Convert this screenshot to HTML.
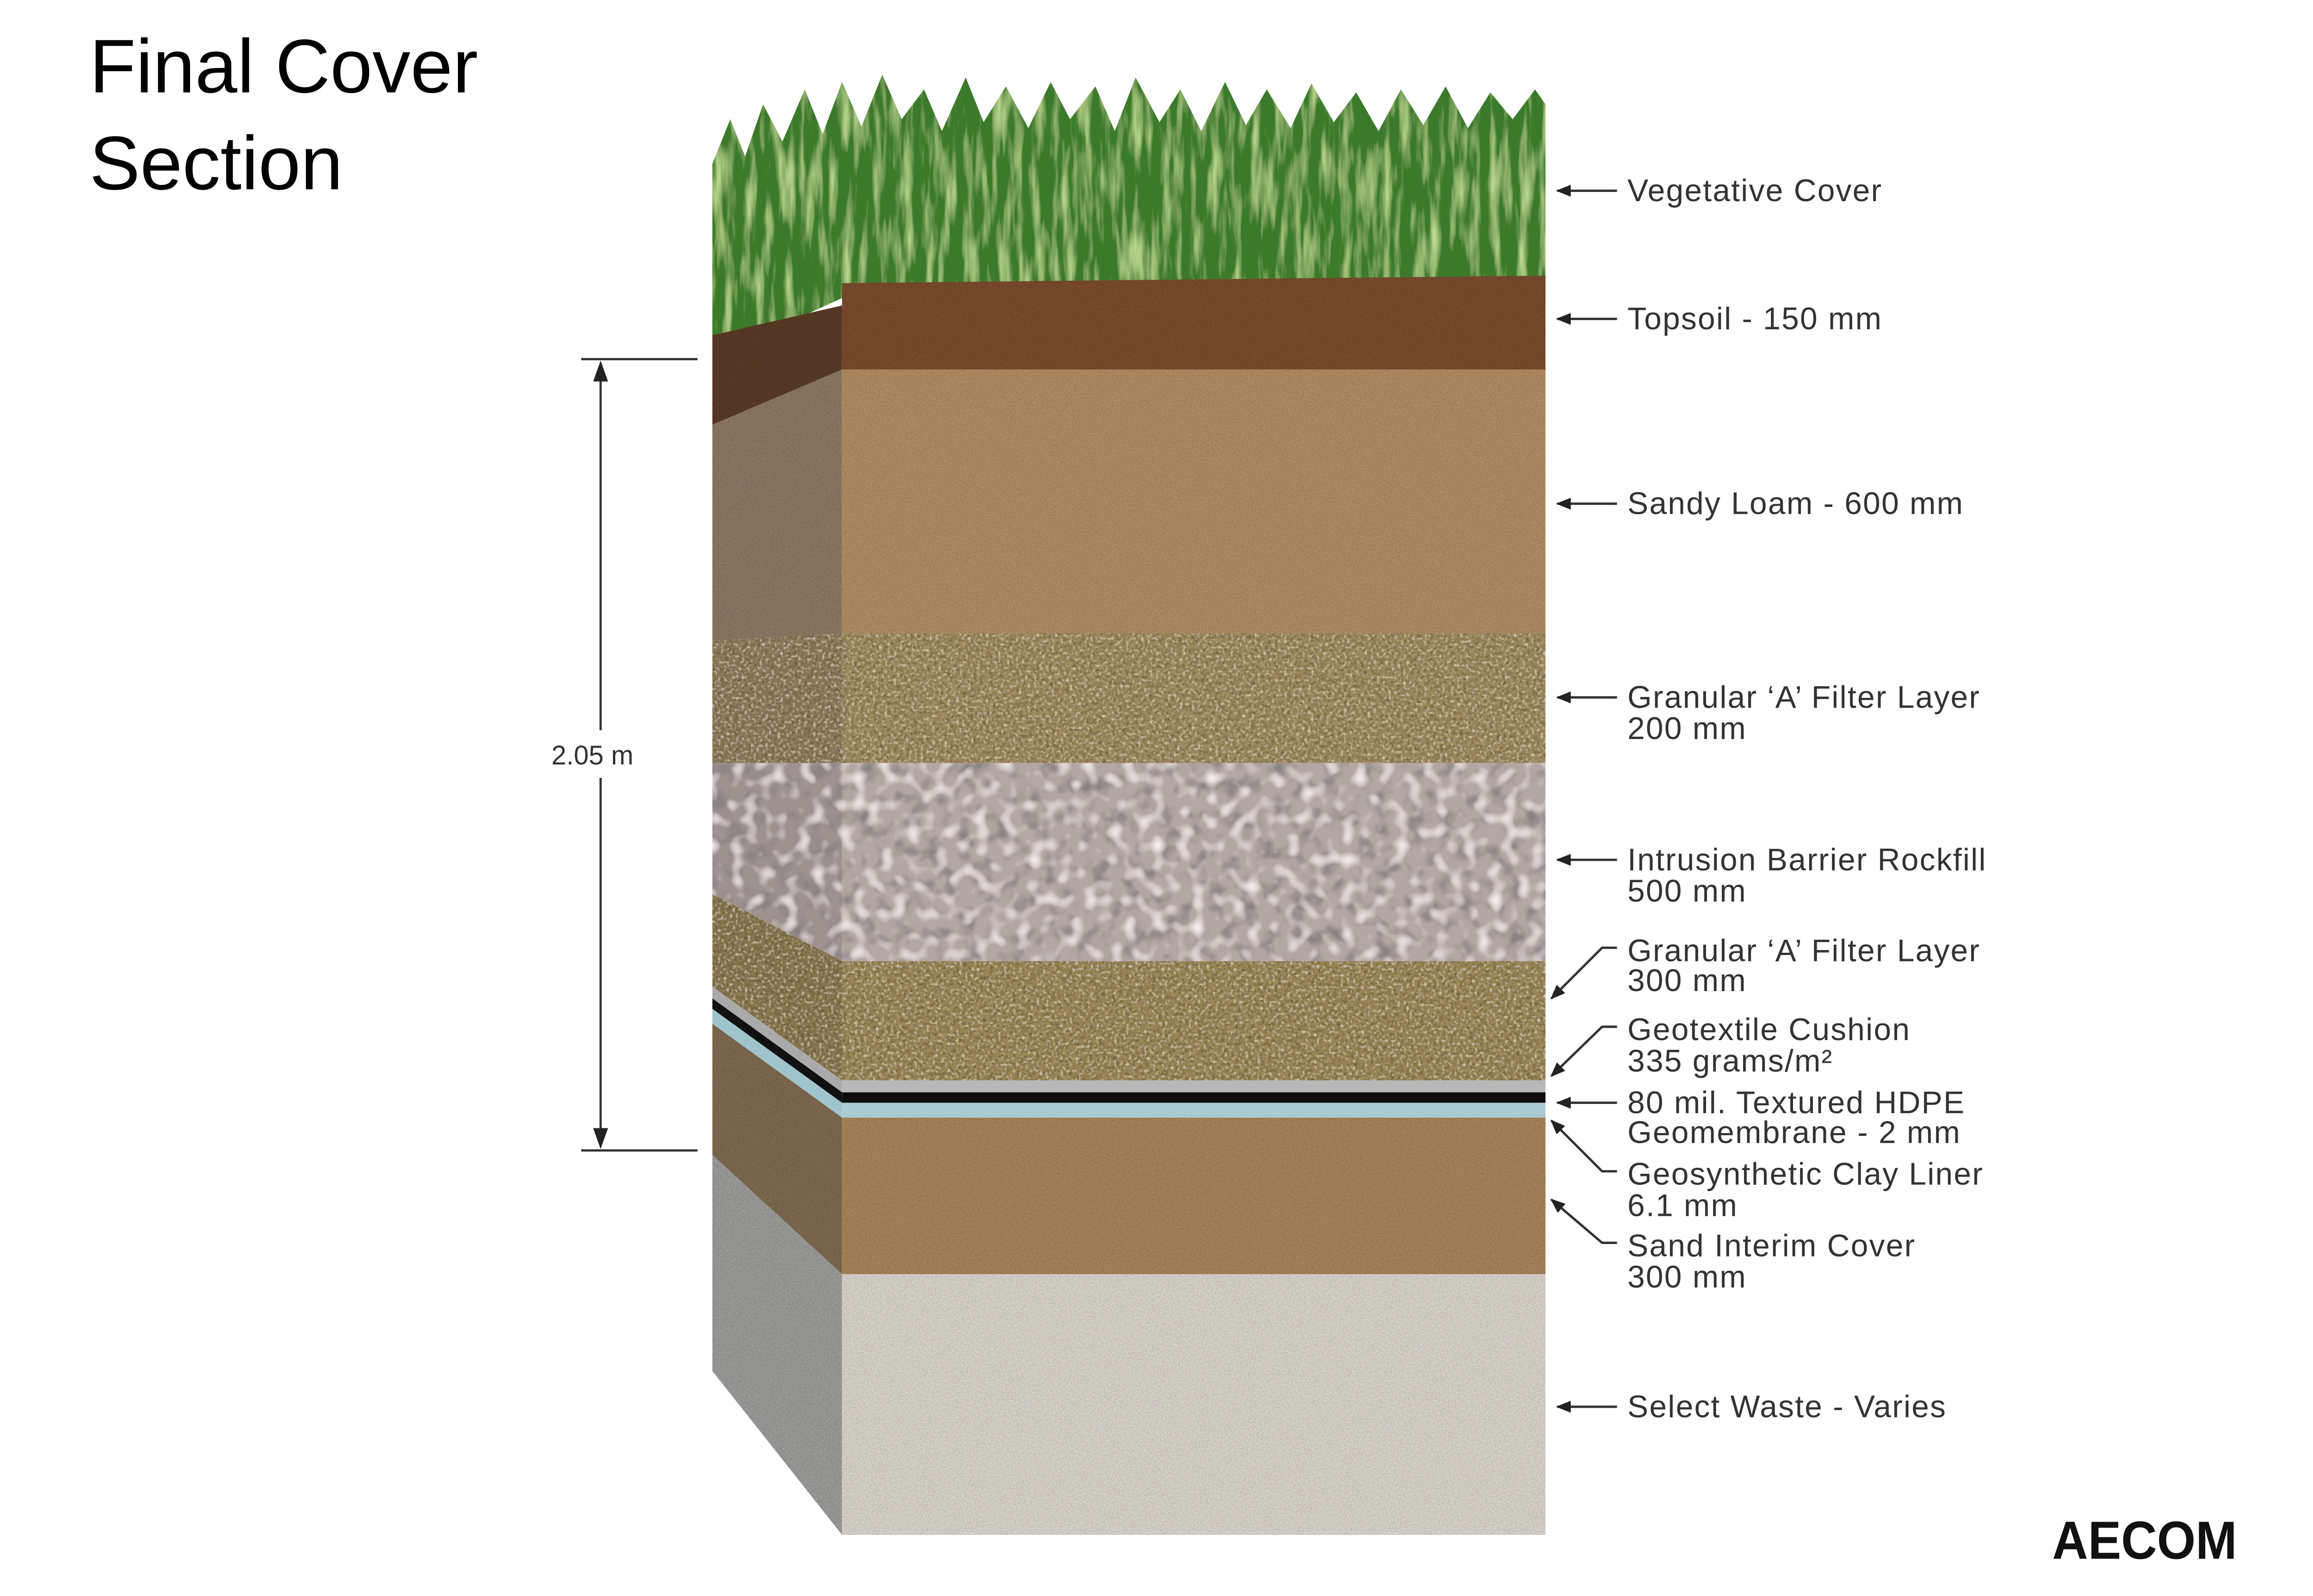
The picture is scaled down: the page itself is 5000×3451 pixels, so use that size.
<!DOCTYPE html>
<html><head><meta charset="utf-8"><style>
html,body{margin:0;padding:0;background:#fff}
svg{display:block}
text{font-family:"Liberation Sans",sans-serif}
</style></head><body>
<svg width="5000" height="3451" viewBox="0 0 1552 1071" preserveAspectRatio="none" xmlns="http://www.w3.org/2000/svg">
<defs>
<filter id="fine" x="0" y="0" width="100%" height="100%">
<feTurbulence type="fractalNoise" baseFrequency="0.9" numOctaves="2" seed="3"/>
<feColorMatrix values="0 0 0 0 0  0 0 0 0 0  0 0 0 0 0  0 0 0 0.45 -0.1"/>
<feComposite in2="SourceGraphic" operator="in"/>
<feBlend in="SourceGraphic" mode="multiply"/>
</filter>
<filter id="grav" x="0" y="0" width="100%" height="100%">
<feTurbulence type="fractalNoise" baseFrequency="0.45" numOctaves="2" seed="7" result="n"/>
<feColorMatrix in="n" values="0 0 0 0 0.1  0 0 0 0 0.08  0 0 0 0 0.03  0 0 0 1.6 -0.6" result="d"/>
<feComposite in="d" in2="SourceGraphic" operator="in" result="dd"/>
<feTurbulence type="fractalNoise" baseFrequency="0.5" numOctaves="1" seed="11" result="m"/>
<feColorMatrix in="m" values="0 0 0 0 0.95  0 0 0 0 0.9  0 0 0 0 0.75  0 0 0 1.8 -0.95" result="l"/>
<feComposite in="l" in2="SourceGraphic" operator="in" result="ll"/>
<feMerge><feMergeNode in="SourceGraphic"/><feMergeNode in="dd"/><feMergeNode in="ll"/></feMerge>
</filter>
<filter id="rock" x="0" y="0" width="100%" height="100%">
<feTurbulence type="fractalNoise" baseFrequency="0.09" numOctaves="2" seed="5" result="n"/>
<feColorMatrix in="n" values="0 0 0 0 0.25  0 0 0 0 0.23  0 0 0 0 0.23  0 0 0 3 -1.4" result="d"/>
<feComposite in="d" in2="SourceGraphic" operator="in" result="dd"/>
<feTurbulence type="fractalNoise" baseFrequency="0.11" numOctaves="1" seed="9" result="m"/>
<feColorMatrix in="m" values="0 0 0 0 0.92  0 0 0 0 0.86  0 0 0 0 0.85  0 0 0 3 -1.5" result="l"/>
<feComposite in="l" in2="SourceGraphic" operator="in" result="ll"/>
<feMerge><feMergeNode in="SourceGraphic"/><feMergeNode in="dd"/><feMergeNode in="ll"/></feMerge>
</filter>
<filter id="grass" x="0" y="0" width="100%" height="100%">
<feTurbulence type="fractalNoise" baseFrequency="0.15 0.02" numOctaves="3" seed="2" result="n"/>
<feColorMatrix in="n" values="0 0 0 0 0.55  0 0 0 0 0.75  0 0 0 0 0.3  0 0 0 2.2 -1" result="l"/>
<feComposite in="l" in2="SourceGraphic" operator="in" result="ll"/>
<feMerge><feMergeNode in="SourceGraphic"/><feMergeNode in="ll"/></feMerge>
</filter>
<marker id="ah" markerWidth="10" markerHeight="8" refX="1" refY="4" orient="auto" markerUnits="userSpaceOnUse">
<path d="M0,4 L10,0 L10,8 Z" fill="#222"/>
</marker>
</defs>

<!-- Title -->
<text x="60" y="62" font-size="51" fill="#000">Final Cover</text>
<text x="60" y="127" font-size="51" fill="#000">Section</text>

<!-- Grass -->
<path d="M478,230 L478,110 L490,80 L500,105 L512,70 L525,95 L540,60 L552,90 L565,55 L578,85 L592,50 L605,80 L620,60 L632,88 L648,52 L660,82 L675,58 L690,86 L705,55 L718,80 L735,58 L748,88 L762,52 L778,82 L792,60 L806,88 L822,55 L836,84 L850,60 L866,86 L880,56 L895,82 L910,62 L925,88 L940,60 L955,84 L970,58 L985,86 L1000,62 L1015,80 L1030,60 L1037,70 L1037,200 L565,200 L478,240 Z" fill="#3b7a2a" filter="url(#grass)"/>
<!-- Topsoil -->
<path d="M565,190 L1037,185 L1037,248 L565,248 Z" fill="#7a4b2e" filter="url(#fine)"/>
<path d="M478,225 L565,205 L565,248 L478,285 Z" fill="#5a3a26" filter="url(#fine)"/>

<!-- Side faces -->
<path d="M478,285 L565,248 L565,425 L478,430 Z" fill="#8b7a64" filter="url(#fine)"/>
<path d="M478,430 L565,425 L565,512 L478,512 Z" fill="#8d7c5c" filter="url(#grav)"/>
<path d="M478,512 L565,512 L565,645 L478,600 Z" fill="#9d9290" filter="url(#rock)"/>
<path d="M478,600 L565,645 L565,725 L478,662 Z" fill="#8a7750" filter="url(#grav)"/>
<path d="M478,662 L565,725 L565,733 L478,670 Z" fill="#aaa"/>
<path d="M478,670 L565,733 L565,740 L478,677 Z" fill="#111"/>
<path d="M478,677 L565,740 L565,750 L478,687 Z" fill="#9fc4cc"/>
<path d="M478,687 L565,750 L565,855 L478,775 Z" fill="#7f6a50" filter="url(#fine)"/>
<path d="M478,775 L565,855 L565,1030 L478,920 Z" fill="#9c9c9a" filter="url(#fine)"/>

<!-- Front faces -->
<rect x="565" y="248" width="472" height="177" fill="#b28d62" filter="url(#fine)"/>
<rect x="565" y="425" width="472" height="87" fill="#a08a60" filter="url(#grav)"/>
<rect x="565" y="512" width="472" height="133" fill="#b3a7a3" filter="url(#rock)"/>
<rect x="565" y="645" width="472" height="80" fill="#9d8758" filter="url(#grav)"/>
<rect x="565" y="725" width="472" height="8" fill="#b8b8b8"/>
<rect x="565" y="733" width="472" height="7" fill="#0c0c0c"/>
<rect x="565" y="740" width="472" height="10" fill="#a9ccd3"/>
<rect x="565" y="750" width="472" height="105" fill="#a98559" filter="url(#fine)"/>
<rect x="565" y="855" width="472" height="175" fill="#d9d5cc" filter="url(#fine)"/>

<!-- Dimension -->
<g stroke="#333" stroke-width="1.5" fill="none">
<line x1="390" y1="241" x2="468" y2="241"/>
<line x1="390" y1="772" x2="468" y2="772"/>
<line x1="403" y1="248" x2="403" y2="490"/>
<line x1="403" y1="522" x2="403" y2="765"/>
</g>
<path d="M403,242 L398,256 L408,256 Z" fill="#222"/>
<path d="M403,771 L398,757 L408,757 Z" fill="#222"/>
<text x="370" y="513" font-size="18" fill="#333">2.05 m</text>

<!-- Leaders -->
<g stroke="#333" stroke-width="1.6" fill="none" marker-start="url(#ah)">
<path d="M1045,128 L1085,128"/>
<path d="M1045,214 L1085,214"/>
<path d="M1045,338 L1085,338"/>
<path d="M1045,468 L1085,468"/>
<path d="M1045,577 L1085,577"/>
<path d="M1041,670 L1075,636 L1085,636"/>
<path d="M1041,722 L1075,689 L1085,689"/>
<path d="M1045,740 L1085,740"/>
<path d="M1041,752 L1075,786 L1085,786"/>
<path d="M1041,805 L1075,834 L1085,834"/>
<path d="M1045,944 L1085,944"/>
</g>

<g font-size="21" fill="#333" letter-spacing="0.7">
<text x="1092" y="135">Vegetative Cover</text>
<text x="1092" y="221">Topsoil - 150 mm</text>
<text x="1092" y="345">Sandy Loam - 600 mm</text>
<text x="1092" y="475">Granular ‘A’ Filter Layer</text>
<text x="1092" y="496">200 mm</text>
<text x="1092" y="584">Intrusion Barrier Rockfill</text>
<text x="1092" y="605">500 mm</text>
<text x="1092" y="645">Granular ‘A’ Filter Layer</text>
<text x="1092" y="665">300 mm</text>
<text x="1092" y="698">Geotextile Cushion</text>
<text x="1092" y="719">335 grams/m²</text>
<text x="1092" y="747">80 mil. Textured HDPE</text>
<text x="1092" y="767">Geomembrane - 2 mm</text>
<text x="1092" y="795">Geosynthetic Clay Liner</text>
<text x="1092" y="816">6.1 mm</text>
<text x="1092" y="843">Sand Interim Cover</text>
<text x="1092" y="864">300 mm</text>
<text x="1092" y="951">Select Waste - Varies</text>
</g>

<text x="1377" y="1046" font-size="36" font-weight="bold" fill="#111" textLength="124" lengthAdjust="spacingAndGlyphs">AECOM</text>
</svg>
</body></html>
